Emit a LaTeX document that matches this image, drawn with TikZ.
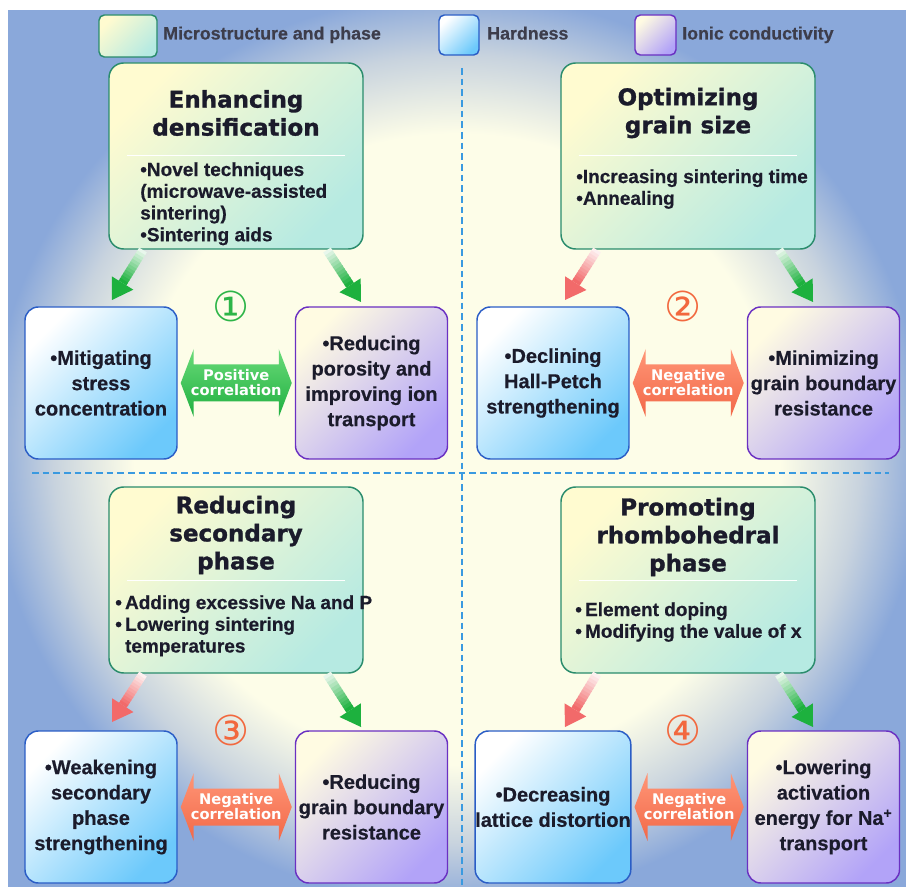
\documentclass[tikz,border=0pt]{standalone}
\usepackage{fontspec}
\setmainfont{Liberation Sans}
\newfontfamily\dejavu{DejaVu Sans}
\newfontfamily\heavy[FakeBold=1.3]{DejaVu Sans Bold}
\newfontfamily\lsb[FakeBold=0.5]{Liberation Sans Bold}
\usetikzlibrary{calc}
\definecolor{bgpale}{HTML}{FDFDE8}
\definecolor{bgmid}{HTML}{C8D3DE}
\definecolor{bgblue}{HTML}{8AA8DA}
\definecolor{mainA}{HTML}{FFFBD0}
\definecolor{mainB}{HTML}{B6EAE2}
\definecolor{mainE}{HTML}{2A8C6C}
\definecolor{hardA}{HTML}{FFFFFF}
\definecolor{hardB}{HTML}{6CC9FB}
\definecolor{hardE}{HTML}{2A5DC6}
\definecolor{ionA}{HTML}{FFFBE2}
\definecolor{ionB}{HTML}{B2A3F8}
\definecolor{ionE}{HTML}{6A30C2}
\definecolor{txt}{HTML}{1B1B2B}
\definecolor{posG}{HTML}{1FAF40}
\definecolor{posGm}{HTML}{2BBB48}
\definecolor{posGl}{HTML}{6ADB79}
\definecolor{negO}{HTML}{F26848}
\definecolor{negOm}{HTML}{F9714F}
\definecolor{negOl}{HTML}{FF9677}
\definecolor{numG}{HTML}{2DB548}
\definecolor{numO}{HTML}{F2683E}
\definecolor{arrG}{HTML}{1DB13E}
\definecolor{arrR}{HTML}{F26A6A}
\definecolor{dashc}{HTML}{3A9AE0}
\pgfdeclareradialshading{bgshade}{\pgfpoint{0bp}{0bp}}{color(0bp)=(bgpale); color(36bp)=(bgpale); color(45bp)=(bgmid); color(52bp)=(bgblue); color(75bp)=(bgblue)}
\newcommand\mybxfont{\lsb\fontsize{15}{19}\selectfont}
\newcommand\fadearrow[3]{%
  \coordinate (fbase) at ($(#2)!15pt!(#1)$);
  \foreach \i in {0,...,11}{%
    \pgfmathsetmacro\pa{\i/12}%
    \pgfmathsetmacro\pb{min((\i+1.4)/12,1)}%
    \pgfmathsetmacro\pc{10+90*\i/11}%
    \draw[line width=6.75pt, #3!\pc!white] ($(#1)!\pa!(fbase)$) -- ($(#1)!\pb!(fbase)$);
  }%
  \fill[#3] (#2) -- ($(fbase)!9.5pt!90:(#2)$) -- ($(fbase)!9.5pt!-90:(#2)$) -- cycle;
}
\newcommand\corrarrow[3]{%
  \coordinate (cL) at ($(#1.east)+(3,0)$);
  \coordinate (cR) at ($(#2.west)+(-3,0)$);
  \path[#3] (cL) -- ($(cL)+(13,-34)$) -- ($(cL)+(13,-18.5)$) -- ($(cR)+(-13,-18.5)$) -- ($(cR)+(-13,-34)$) -- (cR) -- ($(cR)+(-13,34)$) -- ($(cR)+(-13,18.5)$) -- ($(cL)+(13,18.5)$) -- ($(cL)+(13,34)$) -- cycle;
}
\tikzset{
  mainbox/.style={draw=mainE, line width=1.1pt, rounded corners=11pt, minimum width=190.5pt, minimum height=139.5pt, inner sep=0pt, top color=mainA, bottom color=mainB, shading angle=45},
  hardbox/.style={draw=hardE, line width=1.1pt, rounded corners=10pt, minimum width=114pt, minimum height=114pt, inner sep=0pt, top color=hardA, bottom color=hardB, shading angle=45, align=center, text=txt, font=\mybxfont},
  ionbox/.style={draw=ionE, line width=1.1pt, rounded corners=10pt, minimum width=114pt, minimum height=114pt, inner sep=0pt, top color=ionA, bottom color=ionB, shading angle=45, align=center, text=txt, font=\mybxfont},
  ttl/.style={font=\heavy\fontsize{17.25}{21}\selectfont, align=center, text=txt, inner sep=0pt},
  bodytxt/.style={font=\lsb\fontsize{14.25}{16.3}\selectfont, align=left, anchor=north west, text=txt, inner sep=0pt},
  sepline/.style={draw=white, line width=1pt},
  corr/.style={font=\dejavu\bfseries\fontsize{11}{11.25}\selectfont, text=white, align=center, inner sep=0pt},
  posarrow/.style={top color=posGl, middle color=posGm, bottom color=posG},
  negarrow/.style={top color=negOl, middle color=negOm, bottom color=negO},
  num/.style={font=\dejavu\fontsize{31}{31}\selectfont, inner sep=0pt},
  legtxt/.style={font=\lsb\fontsize{13.35}{16}\selectfont, text=txt!85!white, anchor=base west, inner sep=0pt},
  divider/.style={draw=dashc, line width=0.9pt, dash pattern=on 5pt off 3pt}
}
\begin{document}
\begin{tikzpicture}[x=0.75pt,y=-0.75pt]
\useasboundingbox (0,0) rectangle (906,887);
\fill[white] (0,0) rectangle (906,887);
\coordinate (bgc) at (457,449);
\begin{scope}
\clip (8,11) rectangle (906,887);
\begin{pgfscope}
\pgftransformshift{\pgfpointanchor{bgc}{center}}
\pgftransformxscale{6.71}
\pgftransformyscale{6.545}
\pgflowlevelsynccm
\pgfuseshading{bgshade}
\end{pgfscope}
\end{scope}
% legend
\node[draw=mainE, line width=1.1pt, rounded corners=4pt, minimum width=43.5pt, minimum height=31.5pt, top color=mainA, bottom color=mainB, shading angle=45] (lg1) at (128,36) {};
\node[legtxt] (lt1) at (163,39.5) {Microstructure and phase};
\node[draw=hardE, line width=1.1pt, rounded corners=4pt, minimum width=30pt, minimum height=30pt, top color=hardA, bottom color=hardB, shading angle=45] (lg2) at (459,35) {};
\node[legtxt] (lt2) at (487,39.5) {Hardness};
\node[draw=ionE, line width=1.1pt, rounded corners=4pt, minimum width=30.75pt, minimum height=30pt, top color=ionA, bottom color=ionB, shading angle=45] (lg3) at (655.5,35) {};
\node[legtxt] (lt3) at (682,39.5) {Ionic conductivity};
% dividers
\coordinate (dv1) at (462,68); \coordinate (dv2) at (462,887);
\coordinate (dh1) at (32,473); \coordinate (dh2) at (889,473);
\draw[divider] (dv1) -- (dv2);
\draw[divider] (dh1) -- (dh2);
% ---------- Q1 ----------
\node[mainbox] (m1) at (236,156) {};
\node[ttl] (t1) at (236,113) {Enhancing\\densification};
\draw[sepline] ($(m1.north west)+(19,93)$) -- ($(m1.north east)+(-19,93)$);
\node[bodytxt] (b1) at (140,162) {•Novel techniques\\(microwave-assisted\\sintering)\\•Sintering aids};
\node[hardbox] (h1) at (101,383) {•Mitigating\\stress\\concentration};
\node[ionbox] (i1) at (371.5,383) {•Reducing\\porosity and\\improving ion\\transport};
\coordinate (a1s) at (143,250); \coordinate (a1t) at (112,300);
\coordinate (a1u) at (327,250); \coordinate (a1v) at (361,302);
\fadearrow{a1s}{a1t}{arrG}
\fadearrow{a1u}{a1v}{arrG}
\node[num, text=numG] (n1) at (231,306) {①};
\corrarrow{h1}{i1}{posarrow}
\node[corr] (c1) at ($(cL)!0.5!(cR)$) {Positive\\correlation};
% ---------- Q2 ----------
\begin{scope}[shift={(452,0)}]
\node[mainbox] (m2) at (236,156) {};
\node[ttl] (t2) at (236,113) {Optimizing\\grain size};
\draw[sepline] ($(m2.north west)+(19,93)$) -- ($(m2.north east)+(-19,93)$);
\node[bodytxt] (b2) at (124,169) {•Increasing sintering time\\•Annealing};
\node[hardbox] (h2) at (101,383) {•Declining\\Hall-Petch\\strengthening};
\node[ionbox] (i2) at (371.5,383) {•Minimizing\\grain boundary\\resistance};
\coordinate (a2s) at (145,250); \coordinate (a2t) at (113,300);
\coordinate (a2u) at (327,250); \coordinate (a2v) at (361,302);
\fadearrow{a2s}{a2t}{arrR}
\fadearrow{a2u}{a2v}{arrG}
\node[num, text=numO] (n2) at (231,306) {②};
\corrarrow{h2}{i2}{negarrow}
\node[corr] (c2) at ($(cL)!0.5!(cR)$) {Negative\\correlation};
\end{scope}
% ---------- Q3 ----------
\begin{scope}[shift={(0,424)}]
\node[mainbox] (m3) at (236,156) {};
\node[ttl] (t3) at (236,111) {Reducing\\secondary\\phase};
\draw[sepline] ($(m3.north west)+(19,94)$) -- ($(m3.north east)+(-19,94)$);
\node[bodytxt] (b3) at (115,171) {•\,Adding excessive Na and P\\•\,Lowering sintering\\\phantom{•\,}temperatures};
\node[hardbox] (h3) at (101,383) {•Weakening\\secondary\\phase\\strengthening};
\node[ionbox] (i3) at (371.5,383) {•Reducing\\grain boundary\\resistance};
\coordinate (a3s) at (143,250); \coordinate (a3t) at (112,298);
\coordinate (a3u) at (327,250); \coordinate (a3v) at (361,303);
\fadearrow{a3s}{a3t}{arrR}
\fadearrow{a3u}{a3v}{arrG}
\node[num, text=numO] (n3) at (231,306) {③};
\corrarrow{h3}{i3}{negarrow}
\node[corr] (c3) at ($(cL)!0.5!(cR)$) {Negative\\correlation};
\end{scope}
% ---------- Q4 ----------
\begin{scope}[shift={(452,424)}]
\node[mainbox] (m4) at (236,156) {};
\node[ttl] (t4) at (236,113) {Promoting\\rhombohedral\\phase};
\draw[sepline] ($(m4.north west)+(19,94)$) -- ($(m4.north east)+(-19,94)$);
\node[bodytxt] (b4) at (123,178) {•\,Element doping\\•\,Modifying the value of x};
\node[hardbox] (h4) at (101,383) {•Decreasing\\lattice distortion};
\node[ionbox] (i4) at (371.5,383) {•Lowering\\activation\\energy for Na\textsuperscript{+}\\transport};
\coordinate (a4s) at (145,250); \coordinate (a4t) at (113,303);
\coordinate (a4u) at (327,250); \coordinate (a4v) at (361,303);
\fadearrow{a4s}{a4t}{arrR}
\fadearrow{a4u}{a4v}{arrG}
\node[num, text=numO] (n4) at (231,306) {④};
\corrarrow{h4}{i4}{negarrow}
\node[corr] (c4) at ($(cL)!0.5!(cR)$) {Negative\\correlation};
\end{scope}
\end{tikzpicture}
\end{document}
